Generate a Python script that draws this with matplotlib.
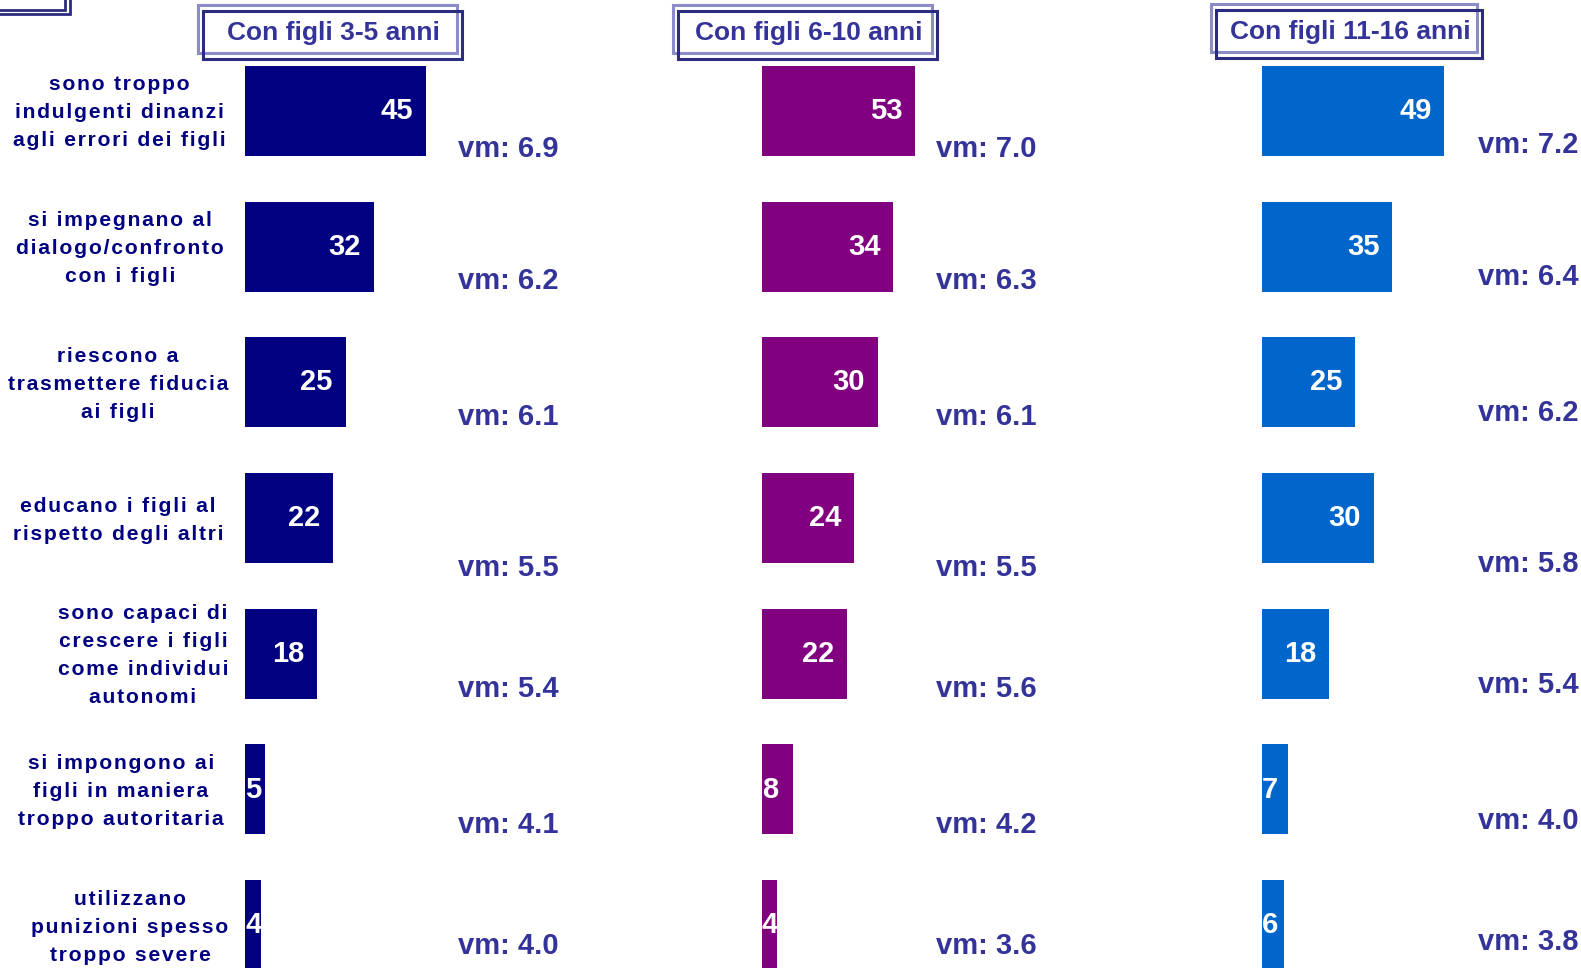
import matplotlib
matplotlib.use("Agg")
import matplotlib.pyplot as plt
from matplotlib.patches import Rectangle
from matplotlib.transforms import Bbox, TransformedBbox

plt.rcParams['font.family'] = ['Liberation Sans', 'DejaVu Sans']

W, H = 1581, 968

labels = [
    "sono troppo\nindulgenti dinanzi\nagli errori dei figli",
    "si impegnano al\ndialogo/confronto\ncon i figli",
    "riescono a\ntrasmettere fiducia\nai figli",
    "educano i figli al\nrispetto degli altri",
    "sono capaci di\ncrescere i figli\ncome individui\nautonomi",
    "si impongono ai\nfigli in maniera\ntroppo autoritaria",
    "utilizzano\npunizioni spesso\ntroppo severe",
]

titles = ["Con figli 3-5 anni", "Con figli 6-10 anni", "Con figli 11-16 anni"]
vals_3_5 = [45, 32, 25, 22, 18, 5, 4]
vals_6_10 = [53, 34, 30, 24, 22, 8, 4]
vals_11_16 = [49, 35, 25, 30, 18, 7, 6]
vm_3_5 = [6.9, 6.2, 6.1, 5.5, 5.4, 4.1, 4.0]
vm_6_10 = [7.0, 6.3, 6.1, 5.5, 5.6, 4.2, 3.6]
vm_11_16 = [7.2, 6.4, 6.2, 5.8, 5.4, 4.0, 3.8]

colors = ["#000080", "#800080", "#0066CC"]
txt_col = "#333399"

# layout (pixels from top-left)
label_cx = [119, 120, 118, 118, 143, 121, 130]
vm_py = [149, 281, 417, 568, 689, 825, 946]

fig = plt.figure(figsize=(W / 100, H / 100), dpi=100)


def fx(x):
    return x / W


def fy(y):
    return 1 - y / H


def spaced(s):
    # fake letter spacing with hair spaces
    return "\n".join("\u200a".join(line) for line in s.split("\n"))


row0 = 111.0
step = 135.7
y_top = (0 - row0) / step
y_bot = (H - row0) / step

# panel: left px, width px, xmax, vm x px, vm dy, title box
panels = [
    (245, 181, 45.0, 458, 0, vals_3_5, vm_3_5, (198, 5, 457, 53)),
    (762, 153, 39.7, 936, 0, vals_6_10, vm_6_10, (673, 5, 932, 53)),
    (1262, 185, 49.7, 1478, -4, vals_11_16, vm_11_16, (1211, 4, 1477, 52)),
]

for k, (left, width, xmax, vmx, vmdy, vals, vms, box) in enumerate(panels):
    ax = fig.add_axes([fx(left), 0, width / W, 1])
    ax.set_xlim(0, xmax)
    ax.set_ylim(y_bot, y_top)
    ax.axis("off")
    ys = list(range(len(vals)))
    ax.barh(ys, vals, height=90 / step, color=colors[k])
    ppu = width / xmax
    for i, v in enumerate(vals):
        end_px = min(v, xmax) * ppu
        if end_px >= 45:
            ax.annotate(str(v), xy=(min(v, xmax), i), xytext=(-29 * 0.72, 0),
                        textcoords="offset points", ha="center", va="center",
                        color="white", fontsize=21, fontweight="bold")
        else:
            t = ax.annotate(str(v), xy=(0, i), xytext=(0, 0),
                            textcoords="offset points", ha="left", va="center",
                            color="white", fontsize=21, fontweight="bold")
            t.set_clip_box(TransformedBbox(Bbox([[0, i - 0.4], [v, i + 0.4]]), ax.transData))
            t.set_clip_on(True)
        fig.text(fx(vmx), fy(vm_py[i] + vmdy), "vm: %.1f" % vms[i],
                 ha="left", va="center", color=txt_col, fontsize=21, fontweight="bold")

    # title box with double frame
    x0, y0, x1, y1 = box
    fig.add_artist(Rectangle((fx(x0), fy(y1)), (x1 - x0) / W, (y1 - y0) / H,
                             transform=fig.transFigure, fill=False,
                             edgecolor="#8c8cc8", lw=2.2))
    fig.add_artist(Rectangle((fx(x0 + 5), fy(y1 + 6)), (x1 - x0) / W, (y1 - y0) / H,
                             transform=fig.transFigure, fill=False,
                             edgecolor="#2b2b80", lw=2.2))
    fig.text(fx((x0 + x1) / 2 + 6), fy((y0 + y1) / 2 + 4), titles[k], ha="center",
             va="center", color=txt_col, fontsize=19, fontweight="bold")

# category labels on the left
for i, lab in enumerate(labels):
    fig.text(fx(label_cx[i]), fy(row0 + 2 + step * i), spaced(lab), ha="center", va="center",
             color="#000080", fontsize=15.2, fontweight="bold", linespacing=1.6)

# leftover frame corner at top left
fig.add_artist(Rectangle((fx(-10), fy(10)), 75 / W, 20 / H, transform=fig.transFigure,
                         fill=False, edgecolor="#2b2b80", lw=2))
fig.add_artist(Rectangle((fx(-10), fy(14)), 80 / W, 24 / H, transform=fig.transFigure,
                         fill=False, edgecolor="#2b2b80", lw=2))

fig.savefig("out.png", dpi=100)
